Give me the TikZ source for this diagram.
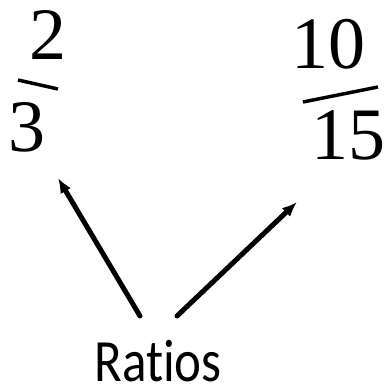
\documentclass[tikz,border=0pt]{standalone}
\usepackage{fontspec}
\newfontfamily\labelfont[Ligatures={NoCommon}]{Carlito}
\newfontfamily\digitfont{Liberation Serif}
\usetikzlibrary{
    arrows.meta,
    positioning,
    calc
}

\begin{document}
\begin{tikzpicture}[
    x=1pt,
    y=-1pt,
    >={Latex[length=15pt,width=12pt]},
    digit/.style={font=\digitfont\fontsize{74}{74}\selectfont, inner sep=0pt},
    fracbar/.style={line width=3.5pt},
    ratioarrow/.style={->, line width=5pt, line cap=round}
]
\useasboundingbox (0,0) rectangle (389,388);

% =============================================================
% Left ratio: 2 over 3
% =============================================================
\node[digit] (two) at (48,35) {2};
\node[digit] (three) at (27,127) {3};
\draw[fracbar] (18,80) -- (58,89);

% =============================================================
% Right ratio: 10 over 15
% =============================================================
\node[digit] (ten) at (328,44) {10};
\node[digit] (fifteen) at (348,135) {15};
\draw[fracbar] (303,102) -- (378,87);

% =============================================================
% Label and arrows
% =============================================================
\node[
    font=\labelfont\fontsize{60}{60}\selectfont,
    inner sep=0pt,
    anchor=base,
    xscale=0.85
] (ratios) at (158,381) {Ratios};

\coordinate (lefttail) at (140,316);
\coordinate (lefttip) at (58,178);
\coordinate (righttail) at (177,316);
\coordinate (righttip) at (297,202);

\draw[ratioarrow] (lefttail) -- (lefttip);
\draw[ratioarrow] (righttail) -- (righttip);

\end{tikzpicture}
\end{document}
